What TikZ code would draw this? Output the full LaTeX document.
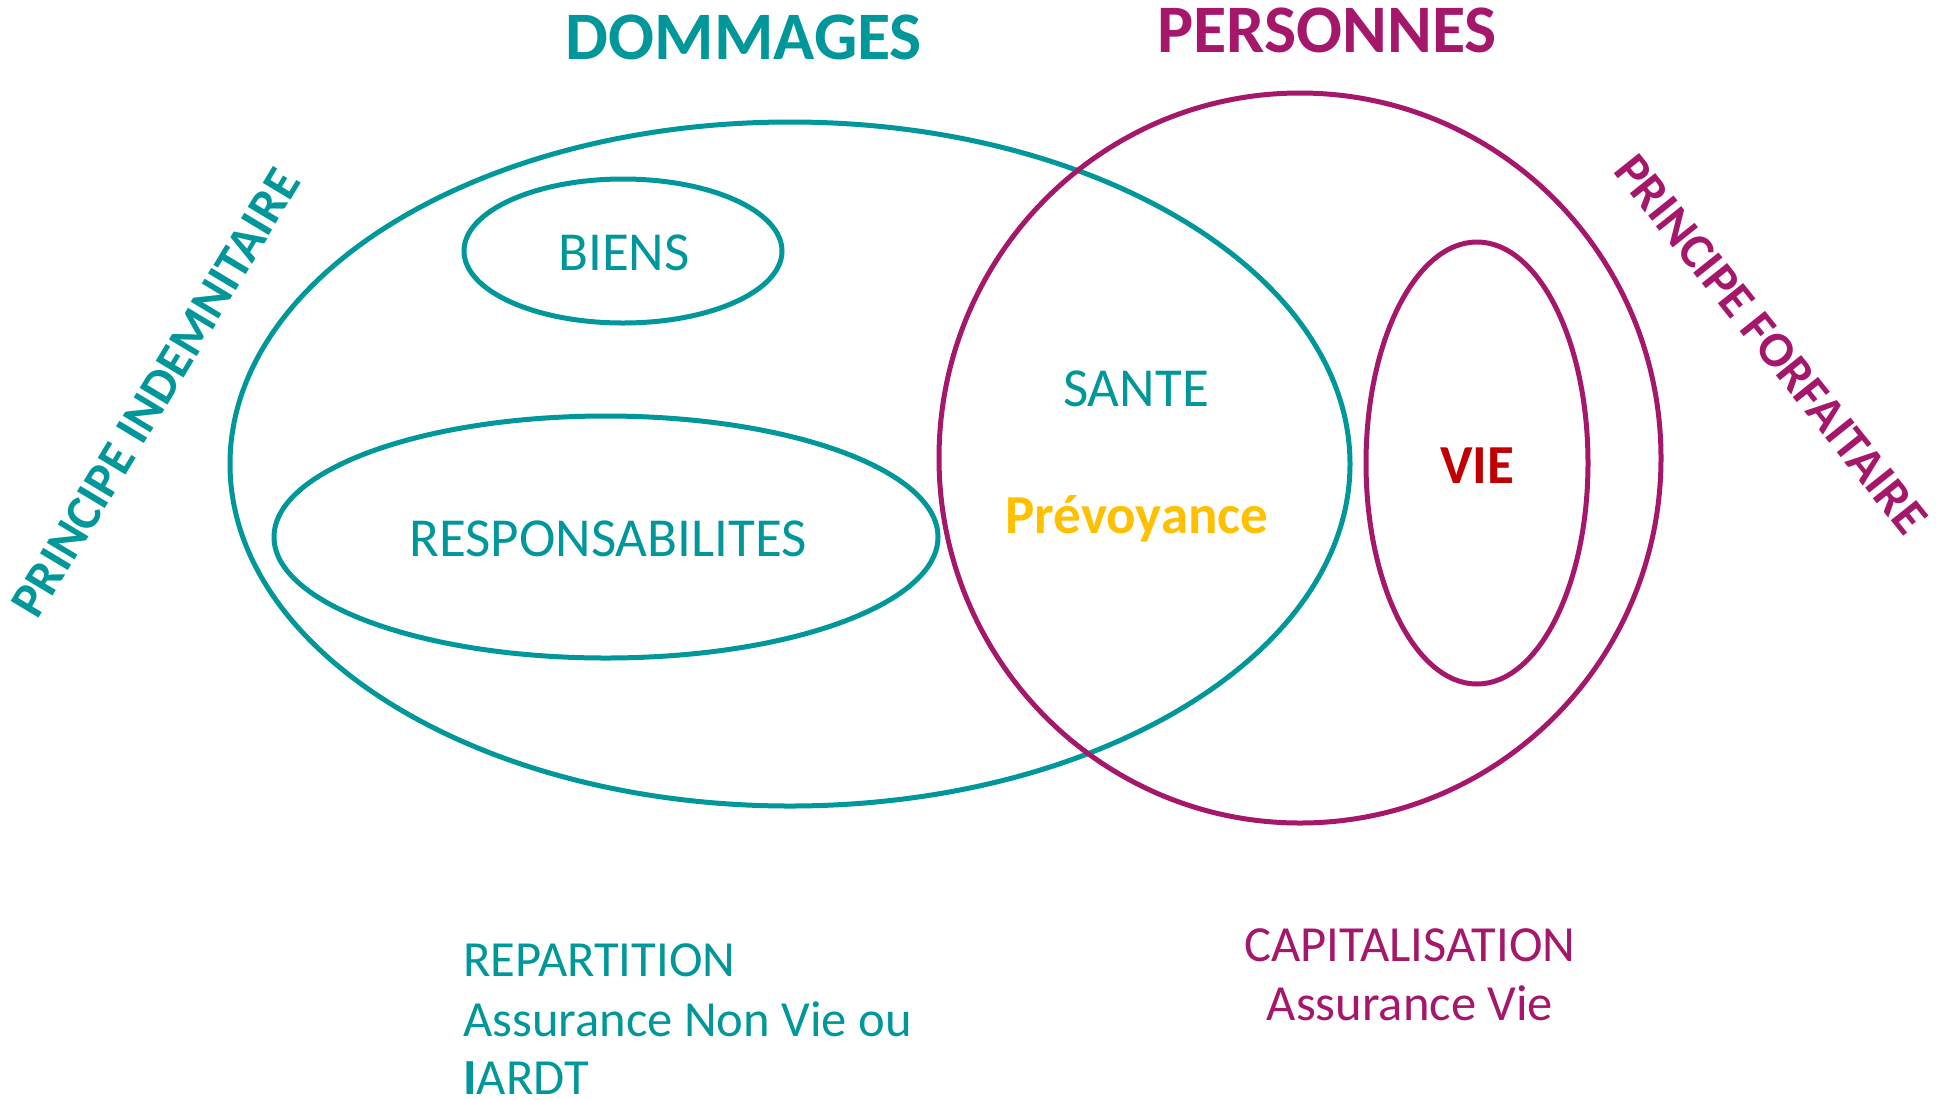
\documentclass[tikz,border=0pt]{standalone}
\usepackage{fontspec}
\setmainfont{Carlito}
\definecolor{dmgteal}{HTML}{00979B}
\definecolor{perspurple}{HTML}{A5176A}
\definecolor{prevyellow}{HTML}{FFC000}
\definecolor{viered}{HTML}{C00000}
\begin{document}
\begin{tikzpicture}[x=0.5pt,y=-0.5pt,
  ring/.style={line width=2.5pt},
  txt/.style={inner sep=0pt, font=\fontsize{27.5}{33}\selectfont},
  bigtitle/.style={inner sep=0pt, font=\bfseries\fontsize{34}{40}\selectfont},
  sidetitle/.style={inner sep=0pt, font=\bfseries\fontsize{25}{30}\selectfont},
  foot/.style={inner sep=0pt, font=\fontsize{25.3}{30}\selectfont}]
\useasboundingbox (0,0) rectangle (1953,1099);

% sets
\draw[ring, dmgteal] (790,464) ellipse [x radius=560, y radius=342];
\draw[ring, dmgteal] (623,251) ellipse [x radius=159, y radius=72];
\draw[ring, dmgteal] (606,537) ellipse [x radius=332, y radius=121];
\draw[ring, perspurple] (1300,458) ellipse [x radius=361, y radius=365];
\draw[ring, perspurple] (1477,463) ellipse [x radius=111, y radius=221];

% titles
\node[bigtitle, dmgteal, anchor=base] (dommages) at (744,59) {DOMMAGES};
\node[bigtitle, perspurple, anchor=base] (personnes) at (1327,52) {PERSONNES};
\node[sidetitle, dmgteal, rotate=59] (indem) at (156,393) {PRINCIPE INDEMNITAIRE};
\node[sidetitle, perspurple, rotate=-51.4] (forf) at (1771,344) {PRINCIPE FORFAITAIRE};

% set labels
\node[txt, dmgteal, anchor=base] (biens) at (624,270) {BIENS};
\node[txt, dmgteal, anchor=base] (resp) at (608,556) {RESPONSABILITES};
\node[txt, dmgteal, anchor=base] (sante) at (1136,406) {SANTE};
\node[txt, prevyellow, anchor=base, font=\bfseries\fontsize{27.5}{33}\selectfont] (prev) at (1137,533) {Prévoyance};
\node[txt, viered, anchor=base, font=\bfseries\fontsize{27.5}{33}\selectfont] (vie) at (1477,483) {VIE};

% financing modes
\node[foot, dmgteal, anchor=base west] (rep1) at (463,976) {REPARTITION};
\node[foot, dmgteal, anchor=base west] (rep2) at (463,1036) {Assurance Non Vie ou};
\node[foot, dmgteal, anchor=base west] (rep3) at (463,1094) {\textbf{I}ARDT};
\node[foot, perspurple, anchor=base] (cap1) at (1410,961) {CAPITALISATION};
\node[foot, perspurple, anchor=base] (cap2) at (1410,1020) {Assurance Vie};
\end{tikzpicture}
\end{document}
